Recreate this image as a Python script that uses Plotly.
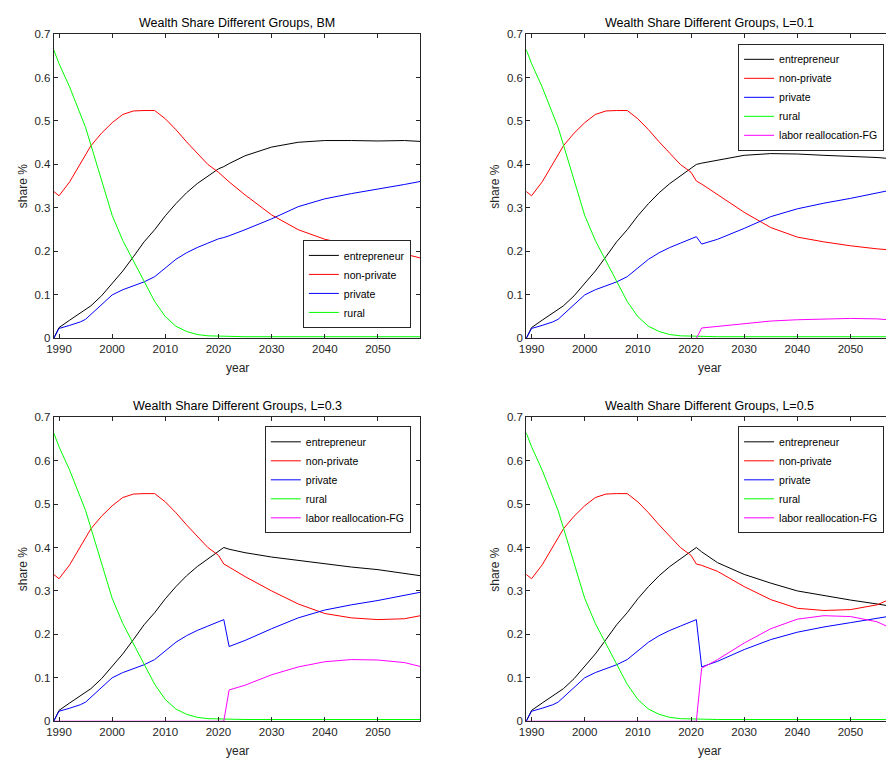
import plotly.graph_objects as go

# ---------------- data ----------------
years_base = [1989, 1990, 1992, 1994, 1995, 1996, 1998, 2000, 2002, 2004, 2006,
              2008, 2010, 2012, 2014, 2016, 2018, 2020]
ent_base = [0.0, 0.025, 0.042, 0.058, 0.066, 0.075, 0.098, 0.126, 0.155, 0.188, 0.222,
            0.25, 0.282, 0.31, 0.335, 0.356, 0.374, 0.39]
nonpriv_base = [0.338, 0.328, 0.36, 0.402, 0.425, 0.443, 0.472, 0.496, 0.515, 0.523, 0.524,
                0.524, 0.505, 0.48, 0.452, 0.425, 0.40, 0.382]
priv_base = [0.0, 0.023, 0.03, 0.038, 0.044, 0.055, 0.078, 0.10, 0.112, 0.121, 0.13,
             0.142, 0.162, 0.182, 0.197, 0.209, 0.219, 0.229]
rural_base = [0.664, 0.632, 0.578, 0.518, 0.485, 0.445, 0.362, 0.283, 0.225, 0.178, 0.13,
              0.085, 0.05, 0.028, 0.016, 0.009, 0.006, 0.005]
labor_base = [0.0] * len(years_base)

years_tail = [2021, 2022, 2025, 2030, 2035, 2040, 2045, 2050, 2055, 2058]
rural_tail = [0.005, 0.005, 0.004, 0.004, 0.004, 0.004, 0.004, 0.004, 0.004, 0.004]

# BM
bm_ent = [0.395, 0.402, 0.42, 0.44, 0.451, 0.455, 0.455, 0.454, 0.455, 0.453]
bm_nonpriv = [0.371, 0.36, 0.33, 0.284, 0.25, 0.228, 0.215, 0.205, 0.194, 0.185]
bm_priv = [0.232, 0.236, 0.25, 0.275, 0.303, 0.321, 0.333, 0.343, 0.354, 0.361]

# L=0.1
l1_ent = [0.40, 0.403, 0.41, 0.421, 0.425, 0.424, 0.421, 0.419, 0.416, 0.413]
l1_nonpriv = [0.362, 0.355, 0.33, 0.29, 0.255, 0.233, 0.222, 0.213, 0.206, 0.203]
l1_priv = [0.234, 0.217, 0.228, 0.253, 0.28, 0.298, 0.311, 0.322, 0.334, 0.342]
l1_labor = [0.0, 0.024, 0.028, 0.034, 0.04, 0.043, 0.045, 0.046, 0.045, 0.042]

# L=0.3
l3_ent = [0.40, 0.396, 0.388, 0.378, 0.37, 0.362, 0.355, 0.349, 0.341, 0.335]
l3_nonpriv = [0.362, 0.355, 0.333, 0.30, 0.27, 0.248, 0.238, 0.234, 0.236, 0.243]
l3_priv = [0.234, 0.172, 0.186, 0.213, 0.238, 0.256, 0.268, 0.278, 0.29, 0.297]
l3_labor = [0.0, 0.072, 0.083, 0.107, 0.125, 0.137, 0.142, 0.141, 0.135, 0.126]

# L=0.5
l5_ent = [0.40, 0.39, 0.365, 0.338, 0.318, 0.30, 0.289, 0.279, 0.27, 0.264]
l5_nonpriv = [0.362, 0.359, 0.345, 0.31, 0.28, 0.26, 0.255, 0.257, 0.268, 0.284]
l5_priv = [0.234, 0.125, 0.138, 0.165, 0.188, 0.205, 0.217, 0.227, 0.237, 0.243]
l5_labor = [0.0, 0.122, 0.142, 0.18, 0.213, 0.235, 0.243, 0.241, 0.229, 0.212]

titles = ["Wealth Share Different Groups, BM", "Wealth Share Different Groups, L=0.1",
          "Wealth Share Different Groups, L=0.3", "Wealth Share Different Groups, L=0.5"]
names = ["entrepreneur", "non-private", "private", "rural", "labor reallocation-FG"]
colors = ["#000000", "#FF0000", "#0000FF", "#00FF00", "#FF00FF"]
x_ticks = [1990, 2000, 2010, 2020, 2030, 2040, 2050]
y_ticks = [0, 0.1, 0.2, 0.3, 0.4, 0.5, 0.6, 0.7]

scenarios = [
    [bm_ent, bm_nonpriv, bm_priv, rural_tail, None],
    [l1_ent, l1_nonpriv, l1_priv, rural_tail, l1_labor],
    [l3_ent, l3_nonpriv, l3_priv, rural_tail, l3_labor],
    [l5_ent, l5_nonpriv, l5_priv, rural_tail, l5_labor],
]
bases = [ent_base, nonpriv_base, priv_base, rural_base, labor_base]

# ---------------- layout geometry ----------------
OFF = 8  # page body margin
W, H = 894 - OFF, 769 - 2 * OFF
px_x = [(47, 416.7), (523.3, 893), (47, 416.7), (523.3, 893)]
px_y = [(28.3, 337.7), (28.3, 337.7), (417.7, 726.7), (417.7, 726.7)]


def fx(p):
    return min(1.0, (p - OFF) / W)


def fy(p):
    return 1 - (p - OFF) / H


legend_pos = [(fx(407), fy(327), "bottom"), (fx(884), fy(38.3), "top"),
              (fx(407), fy(427), "top"), (fx(884), fy(427), "top")]

fig = go.Figure()
layout = dict(width=W, height=H, margin=dict(l=0, r=0, t=0, b=0),
              paper_bgcolor="white", plot_bgcolor="white",
              font=dict(family="Liberation Sans, Arial, sans-serif", size=11, color="#262626"),
              annotations=[])

for i in range(4):
    ax = "" if i == 0 else str(i + 1)
    leg = "legend" if i == 0 else "legend" + str(i + 1)
    for k in range(5):
        tail = scenarios[i][k]
        if tail is None:
            continue
        fig.add_trace(go.Scatter(
            x=years_base + years_tail, y=bases[k] + tail, mode="lines",
            name=names[k], line=dict(color=colors[k], width=1),
            xaxis="x" + ax, yaxis="y" + ax, legend=leg, showlegend=True))
    x0, x1 = px_x[i]
    y0, y1 = px_y[i]
    common = dict(showgrid=False, zeroline=False, showline=True, linecolor="#262626",
                  linewidth=1, mirror="ticks", ticks="inside", ticklen=4,
                  tickcolor="#262626", tickfont=dict(size=11.5, color="#262626"))
    layout["xaxis" + ax] = dict(domain=[fx(x0), fx(x1)], anchor="y" + ax,
                                range=[1989, 2058], tickvals=x_ticks, **common)
    layout["yaxis" + ax] = dict(domain=[fy(y1), fy(y0)], anchor="x" + ax,
                                range=[0, 0.7], tickvals=y_ticks, **common)
    lx, ly, lya = legend_pos[i]
    layout[leg] = dict(x=lx, y=ly, xanchor="right", yanchor=lya, xref="paper", yref="paper",
                       bgcolor="white", bordercolor="#262626", borderwidth=1,
                       font=dict(size=10.5, color="#000000"), tracegroupgap=0)
    cx = fx((x0 + x1) / 2)
    layout["annotations"] += [
        dict(text=titles[i], x=cx, y=fy(y0 - 11), xref="paper", yref="paper",
             showarrow=False, font=dict(size=12.5, color="#000000"),
             xanchor="center", yanchor="middle"),
        dict(text="year", x=cx, y=fy(y1 + 30), xref="paper", yref="paper",
             showarrow=False, font=dict(size=12, color="#262626"),
             xanchor="center", yanchor="middle"),
        dict(text="share %", x=fx(x0 - 31), y=fy((y0 + y1) / 2), xref="paper",
             yref="paper", showarrow=False, textangle=-90,
             font=dict(size=12, color="#262626"), xanchor="center", yanchor="middle"),
    ]

fig.update_layout(**layout)
fig.write_html("out.html")
